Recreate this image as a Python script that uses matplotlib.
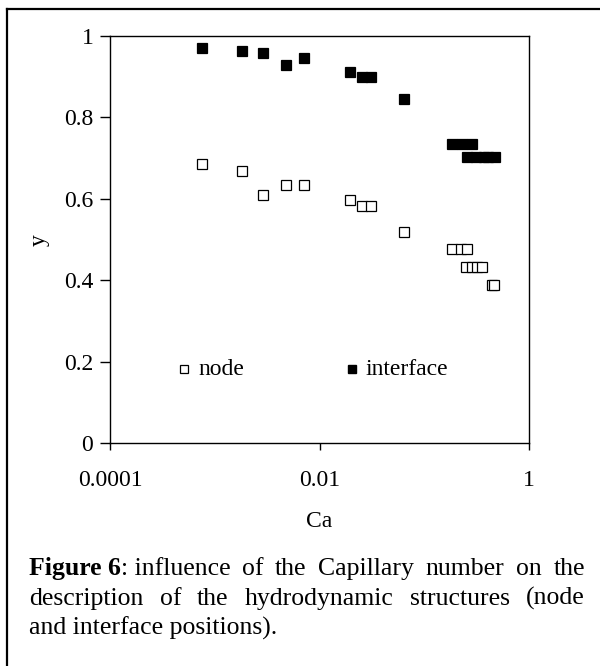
import matplotlib
matplotlib.use("Agg")
import matplotlib.pyplot as plt
from matplotlib.lines import Line2D

plt.rcParams['font.family'] = ['Liberation Serif', 'DejaVu Serif']
plt.rcParams['font.size'] = 17

# data
ca_interface = [7.5e-4, 1.81e-3, 2.91e-3, 4.75e-3, 7.16e-3, 0.0194, 0.0255, 0.0308, 0.0641,
                0.185, 0.231, 0.286, 0.254, 0.312, 0.372, 0.406, 0.476]
y_interface = [0.970, 0.962, 0.958, 0.929, 0.946, 0.911, 0.899, 0.899, 0.845,
               0.735, 0.735, 0.735, 0.703, 0.703, 0.703, 0.703, 0.703]

ca_node = [7.5e-4, 1.81e-3, 2.91e-3, 4.75e-3, 7.16e-3, 0.0194, 0.0255, 0.0308, 0.0641,
           0.185, 0.224, 0.254, 0.251, 0.284, 0.317, 0.353, 0.44, 0.463]
y_node = [0.686, 0.669, 0.610, 0.634, 0.634, 0.598, 0.583, 0.583, 0.520,
          0.478, 0.478, 0.478, 0.434, 0.434, 0.434, 0.434, 0.389, 0.389]

x_ticks = [1e-4, 1e-2, 1]
x_ticklabels = ["0.0001", "0.01", "1"]
y_ticks = [0, 0.2, 0.4, 0.6, 0.8, 1]
y_ticklabels = ["0", "0.2", "0.4", "0.6", "0.8", "1"]

W, H = 600, 666
fig = plt.figure(figsize=(6, 6.66), dpi=100)
ax = fig.add_axes([110 / W, 1 - 443.3 / H, 419 / W, 407.3 / H])

ax.plot(ca_node, y_node, ls='none', marker='s', ms=6.8, mfc='white', mec='black', mew=0.9)
ax.plot(ca_interface, y_interface, ls='none', marker='s', ms=6.8, mfc='black', mec='black', mew=0.9)

ax.set_xscale('log')
ax.set_xlim(1e-4, 1)
ax.set_ylim(0, 1)
ax.set_xticks(x_ticks)
ax.set_xticklabels(x_ticklabels)
ax.set_yticks(y_ticks)
ax.set_yticklabels(y_ticklabels)
ax.xaxis.set_minor_locator(matplotlib.ticker.NullLocator())
ax.tick_params(axis='y', direction='out', length=7, width=1, pad=5)
ax.tick_params(axis='x', direction='out', length=5, width=1, pad=14)
for s in ax.spines.values():
    s.set_linewidth(1.0)

ax.set_xlabel("Ca")
ax.xaxis.set_label_coords(0.5, -0.165)
ax.set_ylabel("y")
ax.yaxis.set_label_coords(-0.145, 0.5)

# legend drawn by hand, like the original
ax.plot([0.1766], [0.1824], transform=ax.transAxes, marker='s', ms=5.5, mfc='white', mec='black', mew=0.9, clip_on=False)
ax.text(0.21, 0.1824, "node", transform=ax.transAxes, va='center', ha='left')
ax.plot([0.5776], [0.1824], transform=ax.transAxes, marker='s', ms=5.5, mfc='black', mec='black', clip_on=False)
ax.text(0.609, 0.1824, "interface", transform=ax.transAxes, va='center', ha='left')

# frame (top and left edges only)
fig.add_artist(Line2D([7 / W, 1], [1 - 9 / H, 1 - 9 / H], color='black', lw=1.6, transform=fig.transFigure))
fig.add_artist(Line2D([7 / W, 7 / W], [0, 1 - 9 / H], color='black', lw=1.6, transform=fig.transFigure))

# justified caption
caption = [
    [("Figure 6", 'bold'), (": influence", 'normal'), ("of", 'normal'), ("the", 'normal'),
     ("Capillary", 'normal'), ("number", 'normal'), ("on", 'normal'), ("the", 'normal')],
    [("description", 'normal'), ("of", 'normal'), ("the", 'normal'), ("hydrodynamic", 'normal'),
     ("structures", 'normal'), ("(node", 'normal')],
    [("and interface positions).", 'normal')],
]
x0, x1 = 29, 585
baselines = [575, 605, 635]
fig.canvas.draw()
renderer = fig.canvas.get_renderer()
for line, yb in zip(caption, baselines):
    texts = []
    for word, weight in line:
        t = fig.text(0, 1 - yb / H, word, fontweight=weight, fontsize=18.5, va='baseline', ha='left')
        texts.append(t)
    widths = [t.get_window_extent(renderer).width for t in texts]
    if len(texts) > 1:
        # "Figure 6" and ": influence" stay glued together
        gaps = len(texts) - 1
        if line[0][0] == "Figure 6":
            gaps -= 1
        gap = (x1 - x0 - sum(widths)) / gaps
        x = x0
        for i, t in enumerate(texts):
            t.set_x(x / W)
            x += widths[i]
            if not (i == 0 and line[0][0] == "Figure 6"):
                x += gap
    else:
        texts[0].set_x(x0 / W)

fig.savefig("out.png", dpi=100)
